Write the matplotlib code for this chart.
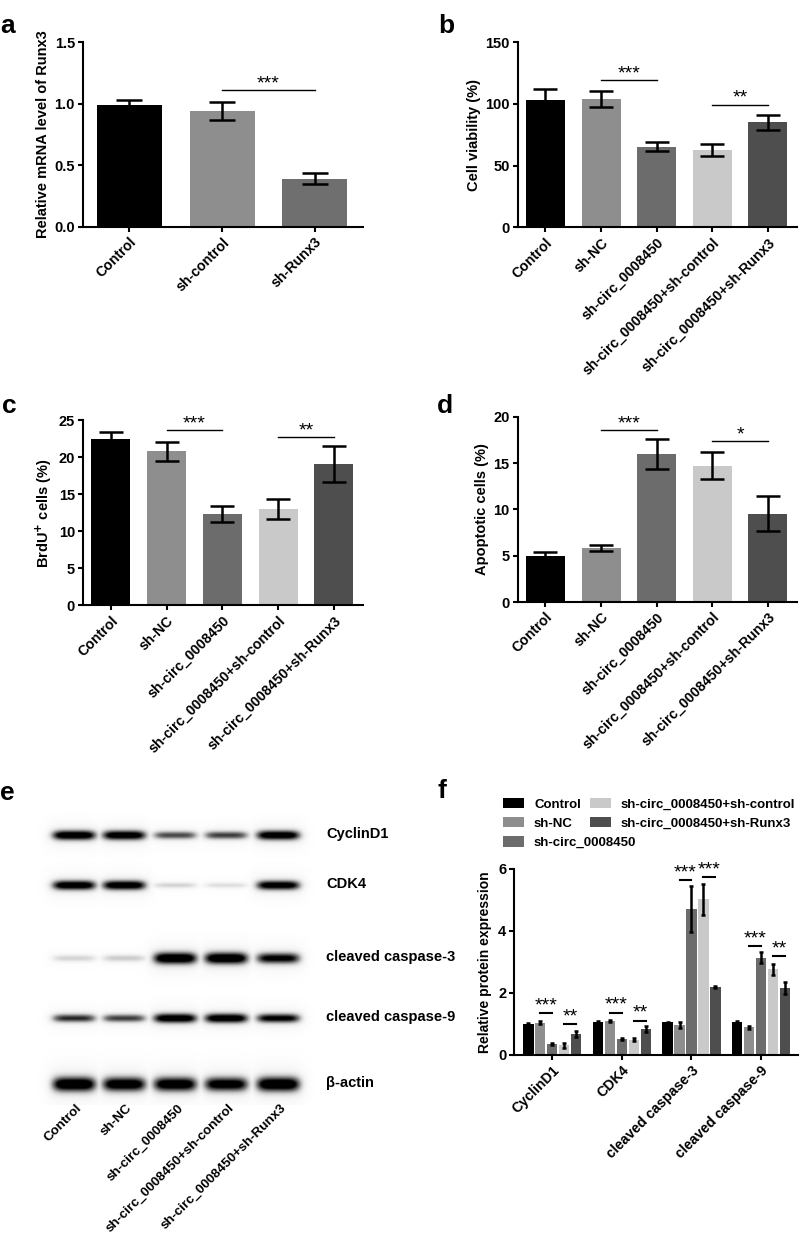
#!/usr/bin/env python3
"""Six-panel figure: Runx3 knockdown, viability, BrdU, apoptosis, western blot and quantification."""

import numpy as np
import matplotlib
matplotlib.use("Agg")
import matplotlib.pyplot as plt
from matplotlib.patches import Patch

plt.rcParams["font.family"] = ["Liberation Sans", "DejaVu Sans"]
plt.rcParams["font.weight"] = "bold"
plt.rcParams["axes.labelweight"] = "bold"

FIG_W, FIG_H = 800, 1239

# ---- panel a ----
A_GROUPS = ["Control", "sh-control", "sh-Runx3"]
A_MEAN = [0.99, 0.94, 0.39]
A_ERR = [0.04, 0.07, 0.045]
A_SIG = [(1, 2, 1.11, "***")]

# ---- panels b, c, d ----
GROUPS5 = [
    "Control",
    "sh-NC",
    "sh-circ_0008450",
    "sh-circ_0008450+sh-control",
    "sh-circ_0008450+sh-Runx3",
]
B_MEAN = [103.0, 104.0, 65.5, 62.8, 85.0]
B_ERR = [9.0, 6.3, 4.0, 4.6, 6.3]
B_SIG = [(1, 2, 119.5, "***"), (3, 4, 99.4, "**")]

C_MEAN = [22.5, 20.8, 12.35, 12.95, 19.1]
C_ERR = [0.9, 1.3, 1.05, 1.35, 2.4]
C_SIG = [(1, 2, 23.7, "***"), (3, 4, 22.7, "**")]

D_MEAN = [4.95, 5.85, 15.95, 14.7, 9.55]
D_ERR = [0.5, 0.3, 1.6, 1.45, 1.9]
D_SIG = [(1, 2, 18.55, "***"), (3, 4, 17.37, "*")]

# ---- panel e (band darkness per lane) ----
BLOT_PROTEINS = ["CyclinD1", "CDK4", "cleaved caspase-3", "cleaved caspase-9", "\u03b2-actin"]
BLOT_CYCLIND1 = [0.97, 0.95, 0.62, 0.65, 0.95]
BLOT_CDK4 = [0.95, 0.95, 0.22, 0.18, 0.92]
BLOT_CASP3 = [0.22, 0.25, 1.00, 1.00, 0.85]
BLOT_CASP9 = [0.70, 0.65, 0.95, 0.95, 0.85]
BLOT_ACTIN = [1.00, 0.95, 0.95, 0.92, 1.00]

# ---- panel f ----
PROTEINS = ["CyclinD1", "CDK4", "cleaved caspase-3", "cleaved caspase-9"]
F_CONTROL = [1.00, 1.06, 1.05, 1.05]
F_CONTROL_ERR = [0.02, 0.03, 0.02, 0.05]
F_SHNC = [1.04, 1.10, 0.96, 0.89]
F_SHNC_ERR = [0.05, 0.03, 0.10, 0.04]
F_SHCIRC = [0.35, 0.52, 4.70, 3.14]
F_SHCIRC_ERR = [0.03, 0.03, 0.74, 0.17]
F_SHCIRC_CTRL = [0.31, 0.50, 5.03, 2.77]
F_SHCIRC_CTRL_ERR = [0.07, 0.05, 0.50, 0.18]
F_SHCIRC_RUNX3 = [0.69, 0.85, 2.19, 2.16]
F_SHCIRC_RUNX3_ERR = [0.10, 0.10, 0.04, 0.20]
F_SIG = [
    (0, 1, 2, 1.34, "***"), (0, 3, 4, 1.00, "**"),
    (1, 1, 2, 1.37, "***"), (1, 3, 4, 1.11, "**"),
    (2, 1, 2, 5.63, "***"), (2, 3, 4, 5.73, "***"),
    (3, 1, 2, 3.52, "***"), (3, 3, 4, 3.18, "**"),
]

COLORS5 = ["#000000", "#8e8e8e", "#6c6c6c", "#c9c9c9", "#4e4e4e"]
COLORS_A = ["#000000", "#8e8e8e", "#6f6f6f"]


def px_axes(fig, left, top, right, bottom):
    """Add axes using pixel edges of the 800x1239 canvas."""
    return fig.add_axes([left / FIG_W, 1 - bottom / FIG_H, (right - left) / FIG_W, (bottom - top) / FIG_H])


def style_axes(ax, ylim, yticks, yticklabels=None):
    for side in ("top", "right"):
        ax.spines[side].set_visible(False)
    for side in ("left", "bottom"):
        ax.spines[side].set_linewidth(1.5)
    ax.set_ylim(*ylim)
    ax.set_yticks(yticks)
    if yticklabels is not None:
        ax.set_yticklabels(yticklabels)
    ax.tick_params(axis="both", width=1.5, length=3.8, pad=2)
    ax.tick_params(axis="y", labelsize=10.5)


def add_stars(ax, x0, x1, y, txt, lw, dy=0.0):
    ax.plot([x0, x1], [y, y], color="black", lw=lw, clip_on=False)
    ax.text((x0 + x1) / 2, y + dy, txt, ha="center", va="bottom", fontsize=14,
            fontweight="normal", clip_on=False)


def bar_panel(ax, labels, means, errs, colors, sig, ylim, yticks, ylabel, yticklabels=None, capsize=8.5):
    x = np.arange(len(labels))
    ax.bar(x, means, width=0.7, color=colors, zorder=2)
    ax.errorbar(x, means, yerr=errs, fmt="none", ecolor="black", elinewidth=1.8,
                capsize=capsize, capthick=1.8, zorder=3)
    ax.set_xlim(-0.5, len(labels) - 0.48)
    ax.set_xticks(x)
    ax.set_xticklabels(labels, rotation=45, ha="right", va="top", rotation_mode="anchor", fontsize=10.2)
    style_axes(ax, ylim, yticks, yticklabels)
    ax.set_ylabel(ylabel, fontsize=10.5, labelpad=3)
    for i, j, y, txt in sig:
        add_stars(ax, i, j, y, txt, 1.0, dy=-(ylim[1] - ylim[0]) * 0.012)


def blot_panel(fig):
    ax = px_axes(fig, 30, 812, 330, 1239)
    lanes_x = [74, 124, 175, 226, 278]
    rows_y = [835, 885, 958, 1018, 1084]
    half_h = [5.0, 5.0, 6.0, 5.0, 7.5]
    rows = [BLOT_CYCLIND1, BLOT_CDK4, BLOT_CASP3, BLOT_CASP9, BLOT_ACTIN]

    xs = np.arange(30, 330, 0.5)
    ys = np.arange(812, 1105, 0.5)
    X, Y = np.meshgrid(xs, ys)
    img = np.zeros_like(X)
    for yc, hh, row in zip(rows_y, half_h, rows):
        for xc, level in zip(lanes_x, row):
            sy = hh * (0.45 + 0.55 * level)
            core = np.exp(-np.abs((X - xc) / 22.0) ** 5) * np.exp(-((Y - yc) / sy) ** 2)
            halo = np.exp(-np.abs((X - xc) / 27.0) ** 4) * np.exp(-((Y - yc) / (sy * 2.6)) ** 2)
            img = np.maximum(img, level * core + 0.10 * level * halo)
    img = np.clip(img * 1.15, 0, 1)
    ax.imshow(img, extent=[30, 330, 1105, 812], cmap="Greys", vmin=0, vmax=1,
              interpolation="bilinear", aspect="auto")
    ax.set_xlim(30, 330)
    ax.set_ylim(1239, 812)
    ax.axis("off")

    for yc, name in zip(rows_y, BLOT_PROTEINS):
        ax.text(326, yc - 1, name, ha="left", va="center", fontsize=10.5, clip_on=False)
    for xc, name in zip(lanes_x, GROUPS5):
        ax.text(xc + 2, 1102, name, rotation=45, ha="right", va="top",
                rotation_mode="anchor", fontsize=9.6, clip_on=False)


def protein_panel(fig):
    ax = px_axes(fig, 514.3, 869, 798, 1055)
    series = [F_CONTROL, F_SHNC, F_SHCIRC, F_SHCIRC_CTRL, F_SHCIRC_RUNX3]
    errs = [F_CONTROL_ERR, F_SHNC_ERR, F_SHCIRC_ERR, F_SHCIRC_CTRL_ERR, F_SHCIRC_RUNX3_ERR]
    pitch = 0.172
    x = np.arange(len(PROTEINS))
    for k, (vals, err) in enumerate(zip(series, errs)):
        xk = x + (k - 2) * pitch
        ax.bar(xk, vals, width=0.15, color=COLORS5[k], zorder=2)
        ax.errorbar(xk, vals, yerr=err, fmt="none", ecolor="black", elinewidth=1.8,
                    capsize=1.5, capthick=1.8, zorder=3)
    ax.set_xlim(-0.545, 3.53)
    ax.set_xticks(x)
    ax.set_xticklabels(PROTEINS, rotation=45, ha="right", va="top", rotation_mode="anchor", fontsize=10.2)
    style_axes(ax, (0, 6), [0, 2, 4, 6])
    ax.set_ylabel("Relative protein expression", fontsize=10, labelpad=4)
    for g, i, j, y, txt in F_SIG:
        xi = g + (i - 2) * pitch
        xj = g + (j - 2) * pitch
        add_stars(ax, xi, xj, y, txt, 1.5, dy=-0.04)

    handles = [Patch(facecolor=c) for c in COLORS5]
    common = dict(frameon=False, fontsize=9.5, handlelength=1.6, handleheight=0.8,
                  handletextpad=0.75, labelspacing=0.5, borderpad=0, borderaxespad=0,
                  loc="upper left", bbox_transform=fig.transFigure)
    leg1 = ax.legend(handles[:3], GROUPS5[:3], bbox_to_anchor=(503 / FIG_W, 1 - 798 / FIG_H), **common)
    ax.add_artist(leg1)
    ax.legend(handles[3:], GROUPS5[3:], bbox_to_anchor=(590 / FIG_W, 1 - 798 / FIG_H), **common)


def main() -> None:
    fig = plt.figure(figsize=(FIG_W / 100, FIG_H / 100), dpi=100)

    ax_a = px_axes(fig, 83, 42, 363, 227)
    bar_panel(ax_a, A_GROUPS, A_MEAN, A_ERR, COLORS_A, A_SIG, (0, 1.5), [0, 0.5, 1.0, 1.5],
              "Relative mRNA level of Runx3", ["0.0", "0.5", "1.0", "1.5"], capsize=9.5)

    ax_b = px_axes(fig, 517.7, 42.3, 796.7, 227.3)
    bar_panel(ax_b, GROUPS5, B_MEAN, B_ERR, COLORS5, B_SIG, (0, 150), [0, 50, 100, 150],
              "Cell viability (%)")

    ax_c = px_axes(fig, 83, 420.3, 362.7, 605.3)
    bar_panel(ax_c, GROUPS5, C_MEAN, C_ERR, COLORS5, C_SIG, (0, 25), [0, 5, 10, 15, 20, 25],
              "BrdU$^{+}$ cells (%)")

    ax_d = px_axes(fig, 517.7, 416.7, 796.7, 602)
    bar_panel(ax_d, GROUPS5, D_MEAN, D_ERR, COLORS5, D_SIG, (0, 20), [0, 5, 10, 15, 20],
              "Apoptotic cells (%)")

    blot_panel(fig)
    protein_panel(fig)

    for letter, x, y in [("a", 0, 33), ("b", 438, 33), ("c", 2, 413), ("d", 437, 413),
                         ("e", 0, 800), ("f", 437, 798)]:
        fig.text(x / FIG_W, 1 - y / FIG_H, letter, fontsize=19, fontweight="bold",
                 ha="left", va="baseline")

    fig.savefig("out.png", dpi=100)
    plt.close(fig)


if __name__ == "__main__":
    main()
